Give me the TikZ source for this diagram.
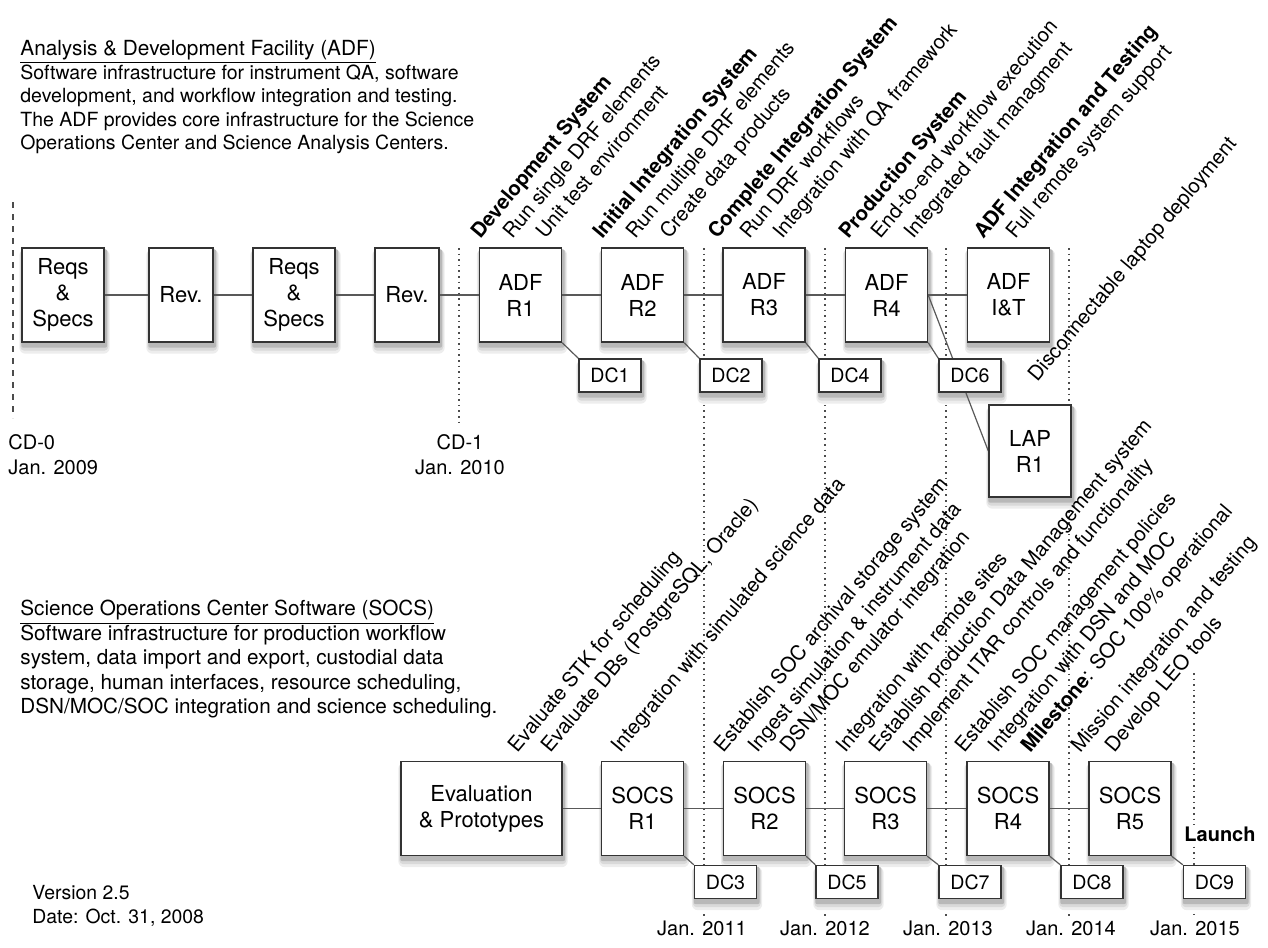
\documentclass[tikz,border=0pt]{standalone}
\usepackage{fontspec}
\setmainfont{TeX Gyre Heros}
\pgfdeclarelayer{background}
\pgfsetlayers{background,main}

\begin{document}
\begin{tikzpicture}[x=0.5pt,y=-0.5pt,
  box/.style={draw=black!80,line width=0.7pt,fill=white,align=center,inner sep=0pt,
    minimum height=47pt,font=\fontsize{11}{13}\selectfont},
  wide/.style={box,minimum width=41pt},
  slim/.style={box,minimum width=32pt},
  dcbox/.style={draw=black!80,line width=0.7pt,fill=white,inner sep=0pt,minimum width=31pt,
    minimum height=16.5pt,font=\fontsize{9.8}{11}\selectfont},
  link/.style={draw=black!65,line width=0.6pt},
  year/.style={black!70,dotted,line width=0.8pt},
  note/.style={rotate=50,anchor=base west,inner sep=0pt,font=\fontsize{10.2}{12}\selectfont},
  bnote/.style={note,font=\fontsize{10.2}{12}\selectfont\bfseries},
  when/.style={inner sep=0pt,font=\fontsize{10}{12.5}\selectfont}]
\useasboundingbox (0,0) rectangle (1268,947);

\node[anchor=north west,align=left,inner sep=0pt,font=\fontsize{9.75}{11.75}\selectfont] (adftext) at (20,40)
  {{\fontsize{10.4}{11.75}\selectfont\underline{Analysis \& Development Facility (ADF)}}\\
   Software infrastructure for instrument QA, software\\
   development, and workflow integration and testing.\\
   The ADF provides core infrastructure for the Science\\
   Operations Center and Science Analysis Centers.};
\node[anchor=north west,align=left,inner sep=0pt,font=\fontsize{10.35}{12.2}\selectfont] (socstext) at (20,600)
  {\underline{Science Operations Center Software (SOCS)}\\
   Software infrastructure for production workflow\\
   system, data import and export, custodial data\\
   storage, human interfaces, resource scheduling,\\
   DSN/MOC/SOC integration and science scheduling.};
\node[anchor=north west,align=left,inner sep=0pt,font=\fontsize{9.7}{11.75}\selectfont] (version) at (32,885)
  {Version 2.5\\Date: Oct. 31, 2008};

\node[wide] (rs1) at (63,295) {Reqs\\\&\\Specs};
\node[slim] (rv1) at (181,295) {Rev.};
\node[wide] (rs2) at (294,295) {Reqs\\\&\\Specs};
\node[slim] (rv2) at (407,295) {Rev.};
\node[wide] (adf1) at (520.5,295) {ADF\\R1};
\node[wide] (adf2) at (642.5,295) {ADF\\R2};
\node[wide] (adf3) at (764,295) {ADF\\R3};
\node[wide] (adf4) at (886.5,295) {ADF\\R4};
\node[wide] (adfit) at (1008.5,295) {ADF\\I\&T};
\node[wide,minimum height=46pt] (lap) at (1030,451) {LAP\\R1};

\node[dcbox] (dc1) at (610,375.5) {DC1};
\node[dcbox] (dc2) at (731,375.5) {DC2};
\node[dcbox] (dc4) at (850,375.5) {DC4};
\node[dcbox] (dc6) at (970,375.5) {DC6};

\node[box,minimum width=80.5pt] (evp) at (481.5,808.5) {Evaluation\\\& Prototypes};
\node[wide] (socs1) at (642.5,808.5) {SOCS\\R1};
\node[wide] (socs2) at (764.5,808.5) {SOCS\\R2};
\node[wide] (socs3) at (885.5,808.5) {SOCS\\R3};
\node[wide] (socs4) at (1008,808.5) {SOCS\\R4};
\node[wide] (socs5) at (1130,808.5) {SOCS\\R5};

\node[dcbox] (dc3) at (725.5,882) {DC3};
\node[dcbox] (dc5) at (847,882) {DC5};
\node[dcbox] (dc7) at (970,882) {DC7};
\node[dcbox] (dc8) at (1092,882) {DC8};
\node[dcbox] (dc9) at (1214.5,882) {DC9};

\node[fill=white,inner sep=1pt,font=\fontsize{10}{12}\selectfont\bfseries] (launch) at (1220,834) {Launch};

\node[when,anchor=north west,align=left] (cd0) at (8,434) {CD-0\\Jan. 2009};
\node[when,anchor=north,align=center] (cd1) at (460,434) {CD-1\\Jan. 2010};
\node[when,anchor=north] (y11) at (702,921) {Jan. 2011};
\node[when,anchor=north] (y12) at (825,921) {Jan. 2012};
\node[when,anchor=north] (y13) at (948,921) {Jan. 2013};
\node[when,anchor=north] (y14) at (1071,921) {Jan. 2014};
\node[when,anchor=north] (y15) at (1195,921) {Jan. 2015};

\node[bnote] (t1a) at (480,240) {Development System};
\node[note] (t1b) at (512,240) {Run single DRF elements};
\node[note] (t1c) at (545,240) {Unit test environment};
\node[bnote] (t2a) at (602,240) {Initial Integration System};
\node[note] (t2b) at (635,240) {Run multiple DRF elements};
\node[note] (t2c) at (669,240) {Create data products};
\node[bnote] (t3a) at (717,240) {Complete Integration System};
\node[note] (t3b) at (749,240) {Run DRF workflows};
\node[note] (t3c) at (782,240) {Integration with QA framework};
\node[bnote] (t4a) at (848,240) {Production System};
\node[note] (t4b) at (880,240) {End-to-end workflow execution};
\node[note] (t4c) at (913,240) {Integrated fault managment};
\node[bnote] (t5a) at (983,240) {ADF Integration and Testing};
\node[note] (t5b) at (1015,240) {Full remote system support};
\node[note] (t6a) at (1037,383) {Disconnectable laptop deployment};

\node[note] (s0a) at (517,754) {Evaluate STK for scheduling};
\node[note] (s0b) at (550,754) {Evaluate DBs (PostgreSQL, Oracle)};
\node[note] (s1a) at (620,754) {Integration with simulated science data};
\node[note] (s2a) at (723,754) {Establish SOC archival storage system};
\node[note] (s2b) at (757,754) {Ingest simulation \& instrument data};
\node[note] (s2c) at (789,754) {DSN/MOC emulator integration};
\node[note] (s3a) at (845,754) {Integration with remote sites};
\node[note] (s3b) at (878,754) {Establish production Data Management system};
\node[note] (s3c) at (912,754) {Implement ITAR controls and functionality};
\node[note] (s4a) at (964,754) {Establish SOC management policies};
\node[note] (s4b) at (997,754) {Integration with DSN and MOC};
\node[note] (s4c) at (1030,754) {\textbf{Milestone}: SOC 100\% operational};
\node[note] (s5a) at (1080,754) {Mission integration and testing};
\node[note] (s5b) at (1114,754) {Develop LEO tools};

\begin{pgfonlayer}{background}
\draw[black!70,dashed,line width=0.8pt] (13,202) -- (13,418);
\draw[year] (459,248) -- (459,422);
\foreach \x in {704,825,946,1069}
  \draw[year] (\x,248) -- (\x,917);
\draw[year] (1194,673) -- (1194,917);
\foreach \n in {rs1,rv1,rs2,rv2,adf1,adf2,adf3,adf4,adfit,lap,dc1,dc2,dc4,dc6,
                evp,socs1,socs2,socs3,socs4,socs5,dc3,dc5,dc7,dc8,dc9} {
  \fill[black!7,rounded corners=3pt] ([xshift=-1pt,yshift=-5.5pt]\n.south west) rectangle ([xshift=2.5pt,yshift=-1pt]\n.north east);
  \fill[black!15,rounded corners=2pt] ([xshift=-0.5pt,yshift=-4pt]\n.south west) rectangle ([xshift=1.8pt,yshift=-1pt]\n.north east);
  \fill[black!28,rounded corners=1pt] ([xshift=0pt,yshift=-2.5pt]\n.south west) rectangle ([xshift=1.2pt,yshift=-1pt]\n.north east);
}
\draw[link] (rs1) -- (rv1) -- (rs2) -- (rv2) -- (adf1) -- (adf2) -- (adf3) -- (adf4) -- (adfit);
\draw[link] (evp) -- (socs1) -- (socs2) -- (socs3) -- (socs4) -- (socs5);
\draw[link] (adf1.south east) -- (dc1.north west);
\draw[link] (adf2.south east) -- (dc2.north west);
\draw[link] (adf3.south east) -- (dc4.north west);
\draw[link] (adf4.south east) -- (dc6.north west);
\draw[link] (adf4.east) -- (lap.west);
\draw[link] (socs1.south east) -- (dc3.north west);
\draw[link] (socs2.south east) -- (dc5.north west);
\draw[link] (socs3.south east) -- (dc7.north west);
\draw[link] (socs4.south east) -- (dc8.north west);
\draw[link] (socs5.south east) -- (dc9.north west);
\end{pgfonlayer}
\end{tikzpicture}
\end{document}
